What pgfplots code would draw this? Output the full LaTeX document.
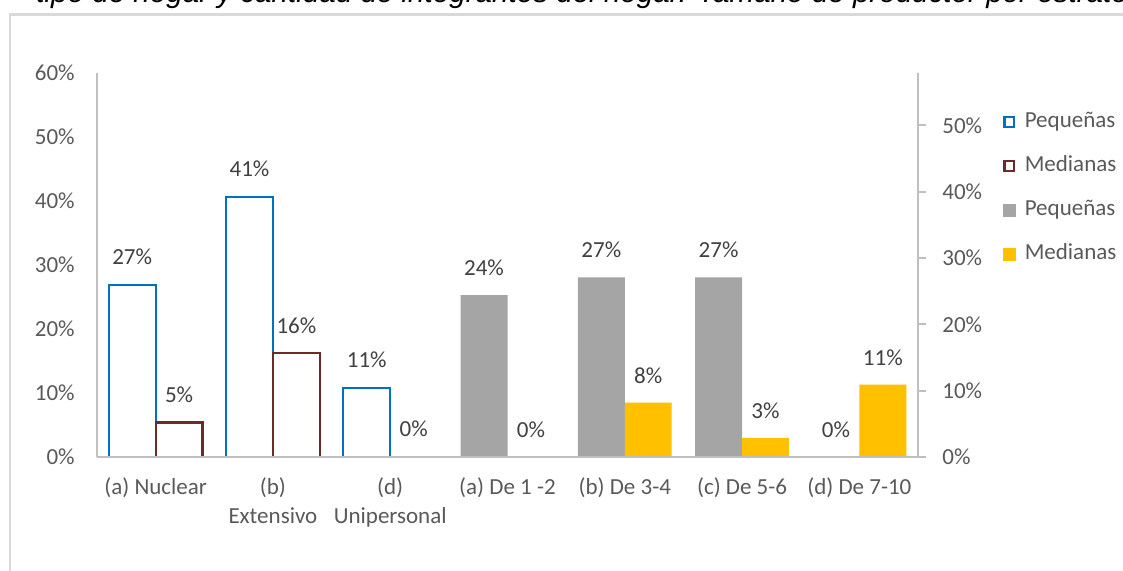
\documentclass[border=0pt]{standalone}
\usepackage{fontspec}
\setmainfont{Carlito}
\newfontfamily\titlefont{Liberation Sans}
\usepackage{pgfplots}
\pgfplotsset{compat=1.18}

\definecolor{peqblue}{HTML}{0070C0}
\definecolor{medred}{HTML}{6E2A2A}
\definecolor{peqgray}{HTML}{A5A5A5}
\definecolor{medyellow}{HTML}{FFC000}
\definecolor{axisgray}{HTML}{BFBFBF}
\definecolor{textgray}{HTML}{595959}
\definecolor{labelgray}{HTML}{404040}
\definecolor{framegray}{HTML}{D9D9D9}

\newcommand{\lblfont}{\fontsize{11.5}{14.5}\selectfont}

% 1px of the reference = 0.5pt
\pgfplotsset{
  common/.style={
    at={(48.5pt,57pt)}, anchor=south west, scale only axis,
    width=410.5pt, height=192pt,
    xmin=-0.5, xmax=6.5, ymin=0,
    axis line style={axisgray, line width=0.9pt},
    axis on top,
    tick label style={font=\lblfont, text=textgray},
    /pgf/number format/assume math mode=true,
    yticklabel={\pgfmathprintnumber{\tick}\%},
    ybar, bar width=0.4,
    nodes near coords={\pgfmathprintnumber[fixed,precision=0]{\pgfplotspointmeta}\%},
    every node near coord/.append style={font=\lblfont, text=labelgray,
      inner sep=0pt, anchor=south, yshift=9.5pt},
  },
}

\begin{document}
\begin{tikzpicture}
\path[use as bounding box] (0pt,0pt) rectangle (561.5pt,285.5pt);
\clip (0pt,0pt) rectangle (561.5pt,285.5pt);

% cut-off caption line above the chart
\node[anchor=base west, inner sep=0pt, font=\titlefont\itshape\fontsize{14.8}{17}\selectfont]
  at (18pt,284.2pt) {tipo de hogar y cantidad de integrantes del hogar. Tamaño de productor por estrato};
\draw[framegray, line width=1.2pt] (5pt,-10pt) -- (5pt,278.2pt) -- (600pt,278.2pt);

% primary axis: tipo de hogar
\begin{axis}[common,
  ymax=60,
  axis x line*=bottom, axis y line*=left,
  ytick={0,10,...,60},
  xtick={0,...,6},
  xticklabels={{(a) Nuclear},{(b)\\Extensivo},{(d)\\Unipersonal},{(a) De 1 -2},{(b) De 3-4},{(c) De 5-6},{(d) De 7-10}},
  major tick length=0pt,
  yticklabel style={inner sep=0pt, xshift=-11pt},
  xticklabel style={align=center, inner sep=0pt, anchor=north, yshift=-10.3pt},
]
\addplot[draw=peqblue, fill=none, line width=1.1pt, bar shift=-0.2]
  coordinates {(0,26.9) (1,40.6) (2,10.8)};
\addplot[draw=medred, fill=none, line width=1.1pt, bar shift=0.2]
  coordinates {(0,5.4) (1,16.2) (2,0)};
\end{axis}

% secondary axis: cantidad de integrantes
\begin{axis}[common,
  ymax=57.9,
  axis x line*=bottom, axis y line*=right,
  xtick=\empty,
  ytick={0,10,...,50},
  tick align=outside, major tick length=4pt,
  ytick style={axisgray, line width=0.9pt},
  yticklabel style={inner sep=0pt, anchor=west, xshift=8pt},
  legend style={at={(axis description cs:1.103,0.900)}, anchor=north west,
    draw=none, fill=none, inner sep=0pt, font=\lblfont, text=textgray,
    nodes={inner sep=0pt, text height=8pt, text depth=2.5pt},
    row sep=11.5pt,
    /tikz/every odd column/.append style={column sep=4.5pt}},
  legend cell align=left,
]
\addplot[draw=none, fill=peqgray, bar shift=-0.2, forget plot]
  coordinates {(3,24.4) (4,27.1) (5,27.1) (6,0)};
\addplot[draw=none, fill=medyellow, bar shift=0.2, forget plot]
  coordinates {(3,0) (4,8.2) (5,2.9) (6,10.9)};
\addlegendimage{legend image code/.code={\draw[peqblue, line width=1.1pt] (0.55pt,-2.45pt) rectangle (5.45pt,2.45pt);}}
\addlegendentry{Pequeñas}
\addlegendimage{legend image code/.code={\draw[medred, line width=1.1pt] (0.55pt,-2.45pt) rectangle (5.45pt,2.45pt);}}
\addlegendentry{Medianas}
\addlegendimage{legend image code/.code={\fill[peqgray] (0pt,-3pt) rectangle (6pt,3pt);}}
\addlegendentry{Pequeñas}
\addlegendimage{legend image code/.code={\fill[medyellow] (0pt,-3pt) rectangle (6pt,3pt);}}
\addlegendentry{Medianas}
\end{axis}
\end{tikzpicture}
\end{document}
